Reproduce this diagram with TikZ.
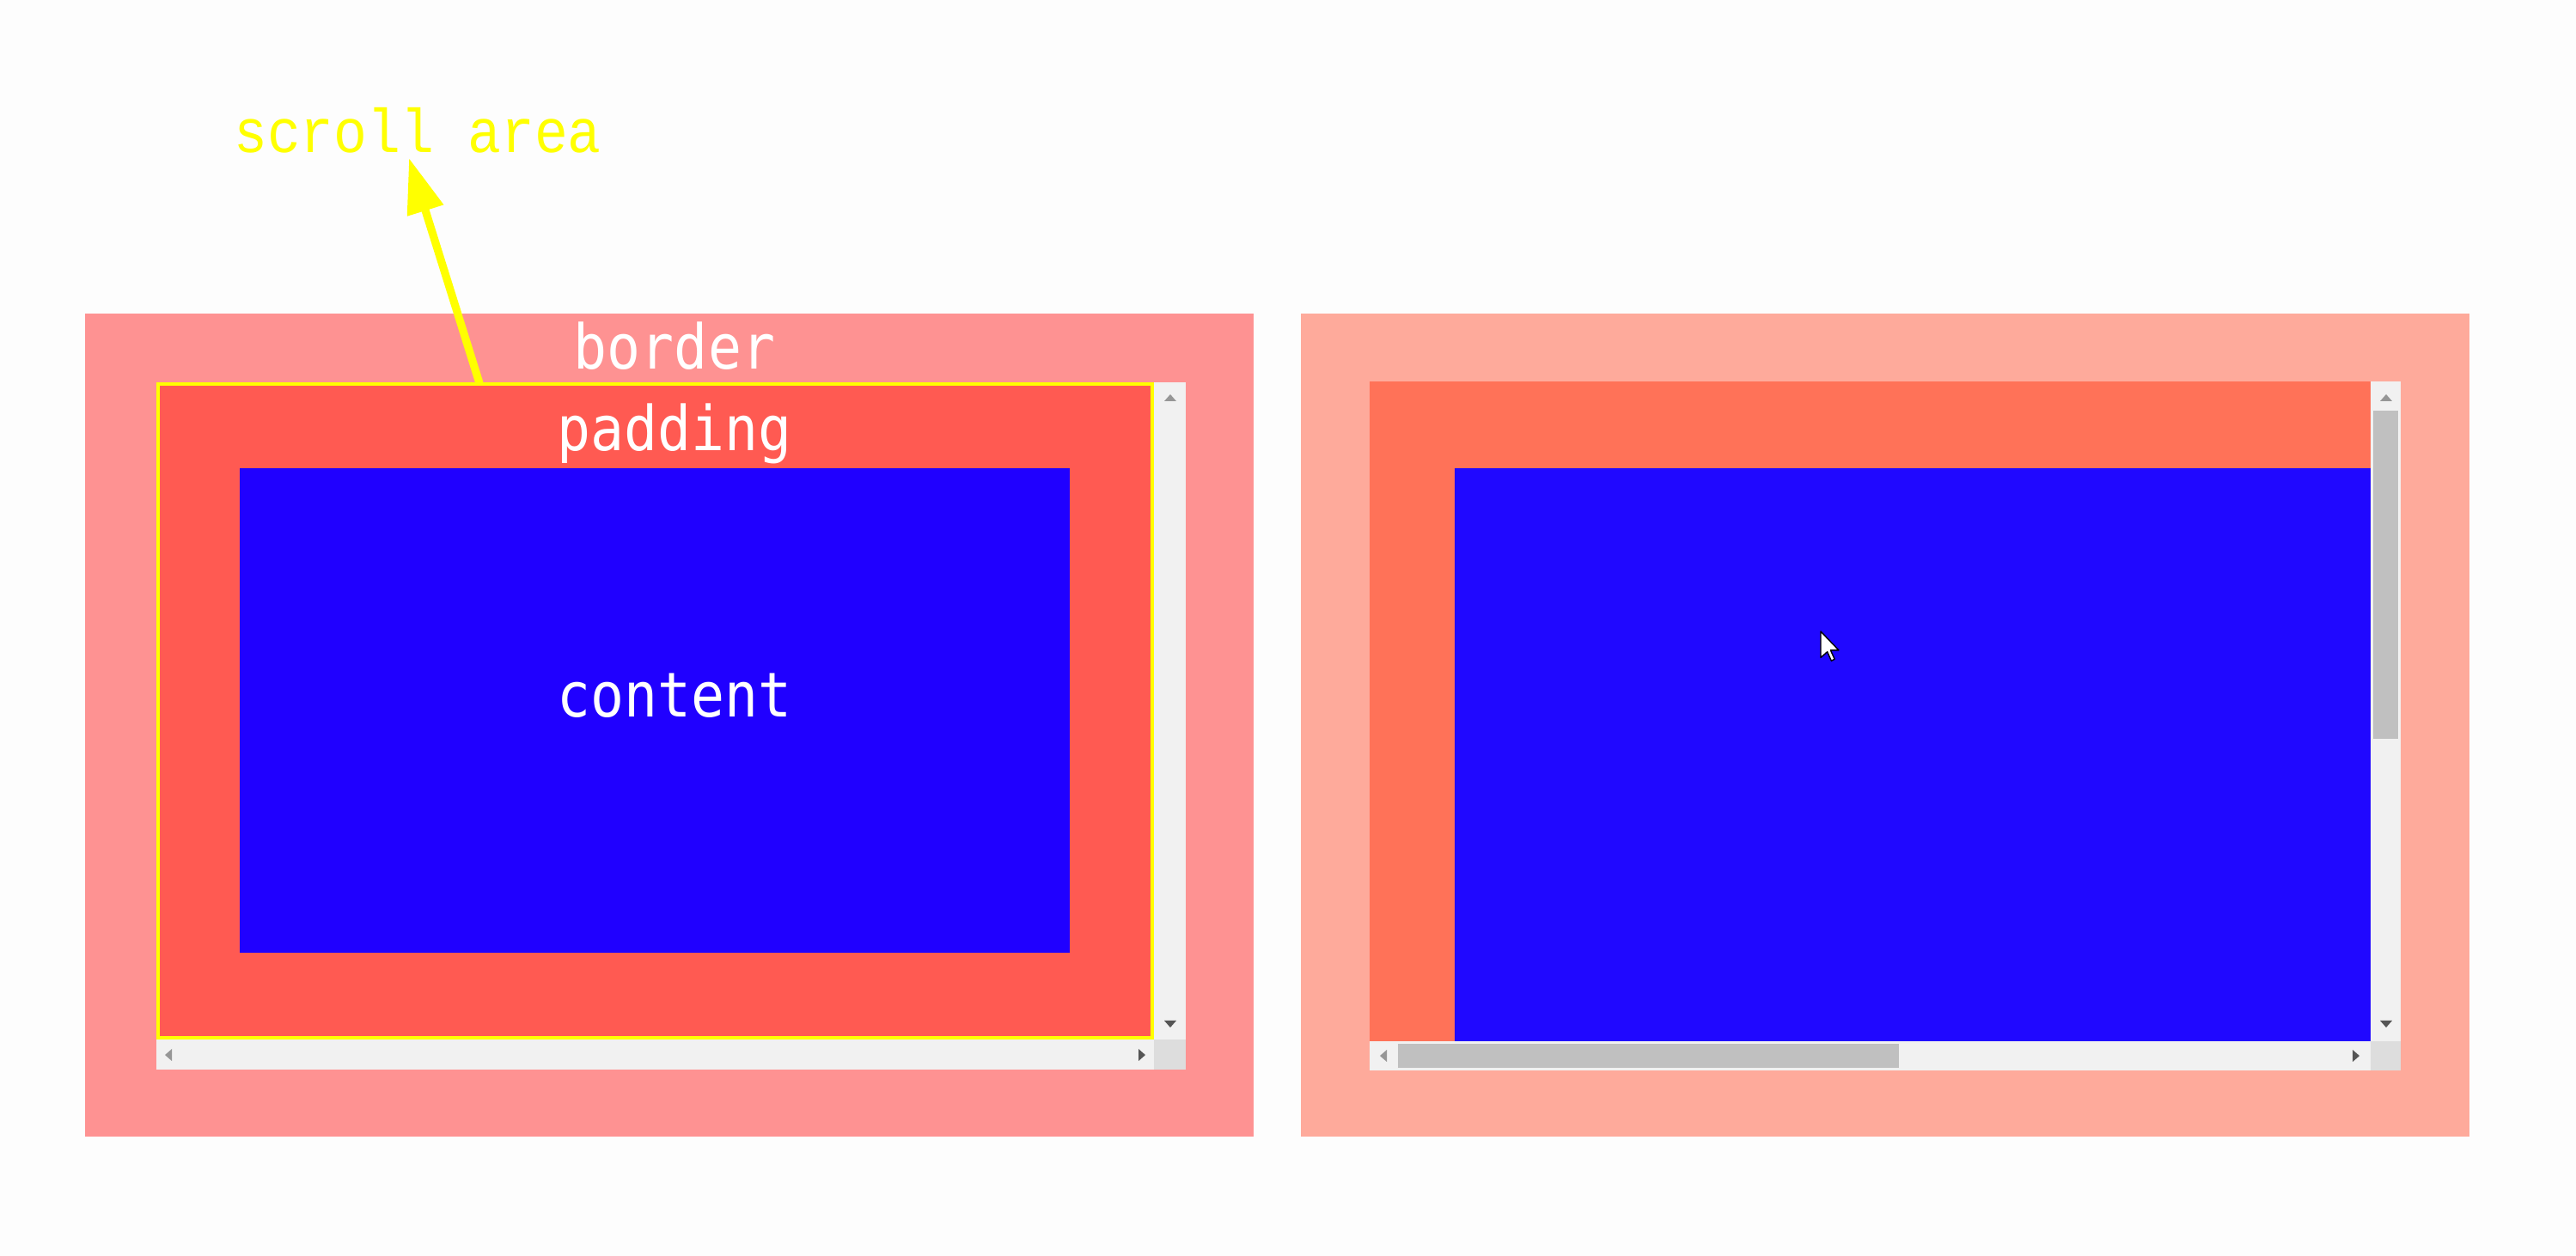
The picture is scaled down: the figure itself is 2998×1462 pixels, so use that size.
\documentclass[tikz,border=0pt]{standalone}
\usepackage{fontspec}
\newfontfamily\monofont[FakeStretch=0.9]{DejaVu Sans Mono}
\newfontfamily\thinmono[FakeStretch=0.9]{Liberation Mono}
\usetikzlibrary{arrows.meta}
\definecolor{bgc}{RGB}{253,253,253}
\definecolor{lborder}{RGB}{254,146,146}
\definecolor{lpad}{RGB}{255,90,82}
\definecolor{lblue}{RGB}{32,0,255}
\definecolor{rborder}{RGB}{254,170,155}
\definecolor{rpad}{RGB}{255,114,88}
\definecolor{rblue}{RGB}{32,8,255}
\definecolor{track}{RGB}{241,241,241}
\definecolor{thumb}{RGB}{192,192,192}
\definecolor{cornerc}{RGB}{221,221,221}
\definecolor{ylw}{RGB}{255,255,0}
\definecolor{arrlight}{RGB}{150,150,150}
\definecolor{arrdark}{RGB}{85,85,85}
\tikzset{
  lbl/.style={font=\monofont\fontsize{18}{22}\selectfont, text=white, inner sep=0pt, anchor=base},
  ylbl/.style={font=\thinmono\fontsize{18}{22}\selectfont, text=ylw, inner sep=0pt, anchor=base},
  scrollarrow/.style={draw=ylw, line width=2.3pt, -{Triangle[length=16pt, width=10.5pt]}},
  sbup/.pic={\fill (-7,4) -- (7,4) -- (0,-4) -- cycle;},
  sbdown/.pic={\fill (-7,-4) -- (7,-4) -- (0,4) -- cycle;},
  sbleft/.pic={\fill (4,-7) -- (4,7) -- (-4,0) -- cycle;},
  sbright/.pic={\fill (-4,-7) -- (-4,7) -- (4,0) -- cycle;}
}
\begin{document}
\begin{tikzpicture}[x=0.25pt,y=-0.25pt]
\fill[bgc] (0,0) rectangle (2998,1462);
\useasboundingbox (0,0) rectangle (2998,1462);

% ---------- left panel ----------
\fill[lborder] (99,365) rectangle (1459,1323);
\fill[lpad] (182,445) rectangle (1343,1210);
\fill[lblue] (279,545) rectangle (1245,1109);
\fill[track] (1343,445) rectangle (1380,1210);
\fill[track] (182,1210) rectangle (1343,1245);
\fill[cornerc] (1343,1210) rectangle (1380,1245);
\draw[ylw, line width=1pt] (184,447) rectangle (1341,1208);
\pic[color=arrlight] at (1362,463) {sbup};
\pic[color=arrdark] at (1362,1192) {sbdown};
\pic[color=arrlight] at (196,1228) {sbleft};
\pic[color=arrdark] at (1329,1228) {sbright};

\node[lbl] (border) at (785,430) {border};
\node[lbl] (padding) at (785,525) {padding};
\node[lbl] (content) at (785,835) {content};

\node[ylbl] (scroll) at (486,178) {scroll area};
\coordinate (tail) at (558,446);
\coordinate (tip) at (476,184);
\draw[scrollarrow] (tail) -- (tip);

% ---------- right panel ----------
\fill[rborder] (1514,365) rectangle (2874,1323);
\fill[rpad] (1594,444) rectangle (2759,1212);
\fill[rblue] (1693,545) rectangle (2759,1212);
\fill[track] (2759,444) rectangle (2794,1212);
\fill[thumb] (2762,478) rectangle (2791,860);
\fill[track] (1594,1212) rectangle (2759,1246);
\fill[thumb] (1627,1215) rectangle (2210,1243);
\fill[cornerc] (2759,1212) rectangle (2794,1246);
\pic[color=arrlight] at (2777,463) {sbup};
\pic[color=arrdark] at (2777,1192) {sbdown};
\pic[color=arrlight] at (1610,1229) {sbleft};
\pic[color=arrdark] at (2742,1229) {sbright};

% mouse cursor
\begin{scope}[shift={(2119,735)}, scale=1.9]
\filldraw[fill=white, draw=black, line width=0.35pt, line join=round]
  (0,0) -- (0,16) -- (4,12.5) -- (6.5,18) -- (8.5,17) -- (6,11.5) -- (11,11.5) -- cycle;
\end{scope}
\end{tikzpicture}
\end{document}
